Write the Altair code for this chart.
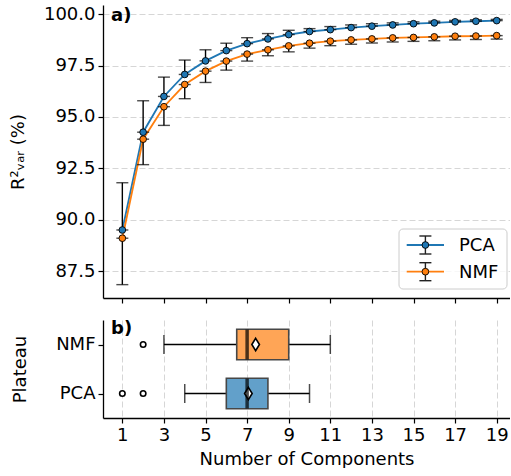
import altair as alt
import pandas as pd

# ---------------- data ----------------
n_comp = list(range(1, 20))
pca_mean = [89.50, 94.26, 96.00, 97.07, 97.73, 98.23, 98.57, 98.80, 99.01, 99.16,
            99.25, 99.35, 99.42, 99.48, 99.54, 99.58, 99.63, 99.66, 99.69]
pca_err_up = [2.30, 1.53, 0.94, 0.70, 0.54, 0.36, 0.29, 0.26, 0.21, 0.14,
              0.15, 0.13, 0.12, 0.10, 0.09, 0.08, 0.07, 0.07, 0.06]
nmf_mean = [89.10, 93.92, 95.50, 96.58, 97.23, 97.72, 98.06, 98.27, 98.46, 98.59,
            98.69, 98.75, 98.80, 98.85, 98.87, 98.90, 98.93, 98.94, 98.96]
nmf_err_down = [2.26, 1.24, 0.91, 0.69, 0.55, 0.44, 0.34, 0.29, 0.29, 0.24,
                0.22, 0.21, 0.20, 0.20, 0.19, 0.19, 0.18, 0.17, 0.17]

methods = ["PCA", "NMF"]
colors = ["#1f77b4", "#ff7f0e"]

box_method = ["PCA", "NMF"]
box_pos = [1, 2]
whisk_lo = [4, 3]
q1 = [6, 6.5]
median = [7, 7]
q3 = [8, 9]
whisk_hi = [10, 11]
box_mean = [7.06, 7.41]
outlier_method = ["PCA", "PCA", "NMF"]
outlier_pos = [1, 1, 2]
outlier_val = [1, 2, 2]

y_ticks = [87.5, 90.0, 92.5, 95.0, 97.5, 100.0]
x_ticks = [1, 3, 5, 7, 9, 11, 13, 15, 17, 19]

# ---------------- tables ----------------
rows = []
for i, n in enumerate(n_comp):
    rows.append({"method": "PCA", "n": n, "mean": pca_mean[i],
                 "lo": pca_mean[i], "hi": pca_mean[i] + pca_err_up[i]})
for i, n in enumerate(n_comp):
    rows.append({"method": "NMF", "n": n, "mean": nmf_mean[i],
                 "lo": nmf_mean[i] - nmf_err_down[i], "hi": nmf_mean[i]})
df = pd.DataFrame(rows)

box_df = pd.DataFrame({"method": box_method, "pos": box_pos, "lo": whisk_lo, "q1": q1,
                       "med": median, "q3": q3, "hi": whisk_hi, "mean": box_mean})
out_df = pd.DataFrame({"method": outlier_method, "pos": outlier_pos, "val": outlier_val})

FONT = "DejaVu Sans"
FS = 18
W = 407
H_TOP = 293
H_BOT = 98

xscale = alt.Scale(domain=[0.07, 19.64], nice=False, zero=False)
color = alt.Color("method:N", scale=alt.Scale(domain=methods, range=colors), legend=None)

x_top_axis = alt.Axis(values=x_ticks, labels=False, ticks=True, grid=False, title=None,
                      tickSize=5)
y_top_axis = alt.Axis(values=y_ticks, format=".1f", grid=True, gridDash=[6, 3],
                      gridColor="#d6d6d6", gridWidth=1, title="R²ᵥₐᵣ (%)",
                      titleX=-85, titleBaseline="middle", tickSize=5)
yscale_top = alt.Scale(domain=[86.19, 100.45], nice=False, zero=False)

X = alt.X("n:Q", scale=xscale, axis=x_top_axis)

base = alt.Chart(df)
lines = base.mark_line(strokeWidth=1.8).encode(
    x=X, y=alt.Y("mean:Q", scale=yscale_top, axis=y_top_axis), color=color,
    order="n:Q")
err = base.mark_rule(color="black", strokeWidth=1.4).encode(
    x=X, y=alt.Y("lo:Q", scale=yscale_top, axis=y_top_axis), y2="hi:Q")
cap_lo = base.mark_tick(orient="horizontal", size=12, thickness=1.4, color="black").encode(
    x=X, y=alt.Y("lo:Q", scale=yscale_top, axis=y_top_axis))
cap_hi = base.mark_tick(orient="horizontal", size=12, thickness=1.4, color="black").encode(
    x=X, y=alt.Y("hi:Q", scale=yscale_top, axis=y_top_axis))
pts = base.mark_circle(size=45, stroke="black", strokeWidth=0.9, opacity=1).encode(
    x=X, y=alt.Y("mean:Q", scale=yscale_top, axis=y_top_axis), color=color)

label_a = alt.Chart(pd.DataFrame({"t": ["a)"]})).mark_text(
    font=FONT, fontSize=FS, fontWeight="bold", align="left", baseline="middle").encode(
    x=alt.value(8), y=alt.value(11), text="t:N")

# custom legend
leg_layers = [
    alt.Chart(pd.DataFrame({"a": [0]})).mark_rect(
        cornerRadius=4, fill="white", fillOpacity=0.8, stroke="#cccccc", strokeWidth=1).encode(
        x=alt.value(296), x2=alt.value(404), y=alt.value(224), y2=alt.value(284))
]
leg_y = [240, 266.7]
for i, m in enumerate(methods):
    cy = leg_y[i]
    d = pd.DataFrame({"t": [m]})
    leg_layers += [
        alt.Chart(d).mark_rule(color=colors[i], strokeWidth=1.8).encode(
            x=alt.value(303.7), x2=alt.value(341), y=alt.value(cy)),
        alt.Chart(d).mark_rule(color="#222222", strokeWidth=1.4).encode(
            x=alt.value(322.4), y=alt.value(cy - 9), y2=alt.value(cy + 9)),
        alt.Chart(d).mark_rule(color="#222222", strokeWidth=1.4).encode(
            x=alt.value(316.4), x2=alt.value(328.4), y=alt.value(cy - 9)),
        alt.Chart(d).mark_rule(color="#222222", strokeWidth=1.4).encode(
            x=alt.value(316.4), x2=alt.value(328.4), y=alt.value(cy + 9)),
        alt.Chart(d).mark_circle(size=45, fill=colors[i], stroke="black", strokeWidth=0.9,
                                 opacity=1).encode(x=alt.value(322.4), y=alt.value(cy)),
        alt.Chart(d).mark_text(font=FONT, fontSize=FS, align="left", baseline="middle").encode(
            x=alt.value(356), y=alt.value(cy + 1), text="t:N"),
    ]

top = alt.layer(lines, err, cap_lo, cap_hi, pts, label_a, *leg_layers).properties(
    width=W, height=H_TOP)

# ---------------- bottom panel ----------------
x_bot_axis = alt.Axis(values=x_ticks, grid=True, gridDash=[6, 3], gridColor="#d6d6d6",
                      gridWidth=1, title="Number of Components", tickSize=5,
                      titlePadding=6)
y_bot_axis = alt.Axis(values=[1, 2], labelExpr="datum.value == 2 ? 'NMF' : 'PCA'",
                      grid=False, title="Plateau", titleX=-83, titleBaseline="middle",
                      tickSize=5)
yscale_bot = alt.Scale(domain=[0.5, 2.5], nice=False, zero=False)
XB = lambda f: alt.X(f, scale=xscale, axis=x_bot_axis)
YB = lambda f: alt.Y(f, scale=yscale_bot, axis=y_bot_axis)

bb = alt.Chart(box_df)
whisk1 = bb.mark_rule(color="black", strokeWidth=1.5).encode(x=XB("lo:Q"), x2="q1:Q", y=YB("pos:Q"))
whisk2 = bb.mark_rule(color="black", strokeWidth=1.5).encode(x=XB("q3:Q"), x2="hi:Q", y=YB("pos:Q"))
capl = bb.mark_tick(orient="vertical", size=19, thickness=1.5, color="black").encode(
    x=XB("lo:Q"), y=YB("pos:Q"))
caph = bb.mark_tick(orient="vertical", size=19, thickness=1.5, color="black").encode(
    x=XB("hi:Q"), y=YB("pos:Q"))
boxes = bb.transform_calculate(b0="datum.pos - 0.31", b1="datum.pos + 0.31").mark_rect(
    stroke="#474747", strokeWidth=1.6, fillOpacity=0.7).encode(
    x=XB("q1:Q"), x2="q3:Q", y=YB("b0:Q"), y2="b1:Q",
    fill=alt.Fill("method:N", scale=alt.Scale(domain=methods, range=colors), legend=None))
med = bb.mark_tick(orient="vertical", size=30, thickness=3.5, color="black").encode(
    x=XB("med:Q"), y=YB("pos:Q"))
meanpt = bb.mark_point(shape="M0,-1L0.62,0L0,1L-0.62,0Z", size=150, filled=True,
                       fill="white", stroke="black", strokeWidth=1.6, opacity=1).encode(
    x=XB("mean:Q"), y=YB("pos:Q"))
outl = alt.Chart(out_df).mark_point(shape="circle", size=30, filled=False, fill="white",
                                    stroke="black", strokeWidth=1.6, opacity=1).encode(
    x=XB("val:Q"), y=YB("pos:Q"))
label_b = alt.Chart(pd.DataFrame({"t": ["b)"]})).mark_text(
    font=FONT, fontSize=FS, fontWeight="bold", align="left", baseline="middle").encode(
    x=alt.value(8), y=alt.value(8.5), text="t:N")

bottom = alt.layer(whisk1, whisk2, capl, caph, boxes, meanpt, med, outl, label_b).properties(
    width=W, height=H_BOT)

chart = alt.vconcat(top, bottom, spacing=15).properties(
    padding={"left": 9, "top": 5, "right": 0, "bottom": 0}
).configure(font=FONT).configure_axis(
    labelFontSize=FS, titleFontSize=FS, labelFont=FONT, titleFont=FONT,
    labelColor="black", titleColor="black", domainColor="black", tickColor="black",
    titleFontWeight="normal", domainWidth=1.3, tickWidth=1.2, labelPadding=3
).configure_axisX(domainWidth=1.3).configure_view(stroke=None)

chart.save("out.html", embed_options={"renderer": "svg", "actions": False})
